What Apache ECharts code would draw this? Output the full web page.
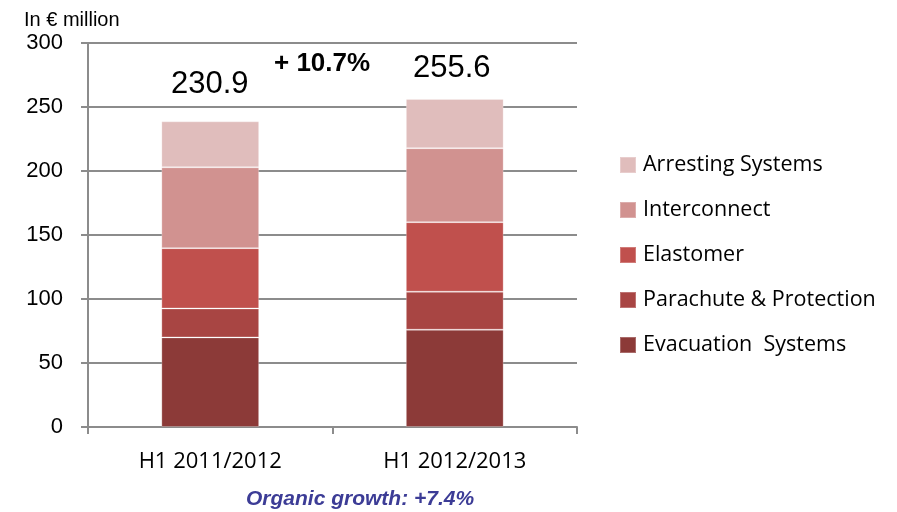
<!DOCTYPE html>
<html>
<head>
<meta charset="utf-8">
<script src="https://cdn.jsdelivr.net/npm/echarts@6/dist/echarts.min.js"></script>
<style>html,body{margin:0;padding:0;background:#fff;}#c{width:897px;height:512px;}</style>
</head>
<body>
<div id="c"></div>
<script>
const categories = ['H1 2011/2012', 'H1 2012/2013'];
const evacuation = [70, 76];
const parachute = [22.6, 29.7];
const elastomer = [47.1, 54.3];
const interconnect = [63.2, 57.8];
const arresting = [35.9, 38.5];
const totals = ['230.9', '255.6'];
const yTicks = [0, 50, 100, 150, 200, 250, 300];

const chart = echarts.init(document.getElementById('c'));
const mk = (name, data, color) => ({
  name, type: 'bar', stack: 'total', data, barWidth: '40%',
  itemStyle: { color, borderColor: 'rgba(255,255,255,0.25)', borderWidth: 1 },
  emphasis: { disabled: true }
});
chart.setOption({
  animation: false,
  title: { text: 'In € million', left: 19, top: 5,
    textStyle: { fontFamily: 'Liberation Sans', fontSize: 20, fontWeight: 'normal', color: '#000' } },
  grid: { left: 88, right: 320, top: 43, bottom: 85 },
  legend: {
    orient: 'vertical', left: 614, top: 149, itemWidth: 16, itemHeight: 16, itemGap: 23,
    data: ['Arresting Systems', 'Interconnect', 'Elastomer', 'Parachute & Protection', 'Evacuation  Systems'],
    textStyle: { fontFamily: 'Open Sans', fontSize: 21.5, color: '#000', padding: [0, 0, 0, 2] },
    icon: 'rect'
  },
  xAxis: {
    type: 'category', data: categories,
    axisLine: { lineStyle: { color: '#8c8c8c', width: 2 } },
    axisTick: { show: true, length: 7, lineStyle: { color: '#8c8c8c', width: 2 } },
    axisLabel: { fontFamily: 'Open Sans', fontSize: 22, color: '#000', margin: 24 }
  },
  yAxis: {
    type: 'value', min: yTicks[0], max: yTicks[yTicks.length - 1], interval: 50,
    axisLine: { show: true, lineStyle: { color: '#8c8c8c', width: 2 } },
    axisTick: { show: true, length: 7, lineStyle: { color: '#8c8c8c', width: 2 } },
    splitLine: { lineStyle: { color: '#8c8c8c', width: 2 } },
    axisLabel: { fontFamily: 'Liberation Sans', fontSize: 22, color: '#000', margin: 25 }
  },
  series: [
    mk('Evacuation  Systems', evacuation, '#8c3a38'),
    mk('Parachute & Protection', parachute, '#a84543'),
    mk('Elastomer', elastomer, '#c0504d'),
    mk('Interconnect', interconnect, '#d19290'),
    mk('Arresting Systems', arresting, '#e0bdbc')
  ],
  graphic: [
    { type: 'text', left: 171, top: 69, style: { text: totals[0], fontFamily: 'Liberation Sans', fontSize: 31, fill: '#000' } },
    { type: 'text', left: 413, top: 53, style: { text: totals[1], fontFamily: 'Liberation Sans', fontSize: 31, fill: '#000' } },
    { type: 'text', left: 274, top: 51, style: { text: '+ 10.7%', fontFamily: 'Liberation Sans', fontSize: 26, fontWeight: 'bold', fill: '#000' } },
    { type: 'text', left: 246, top: 489, style: { text: 'Organic growth: +7.4%', fontFamily: 'Liberation Sans', fontSize: 21, fontWeight: 'bold', fontStyle: 'italic', fill: '#3c3c96' } }
  ]
});
</script>
</body>
</html>
